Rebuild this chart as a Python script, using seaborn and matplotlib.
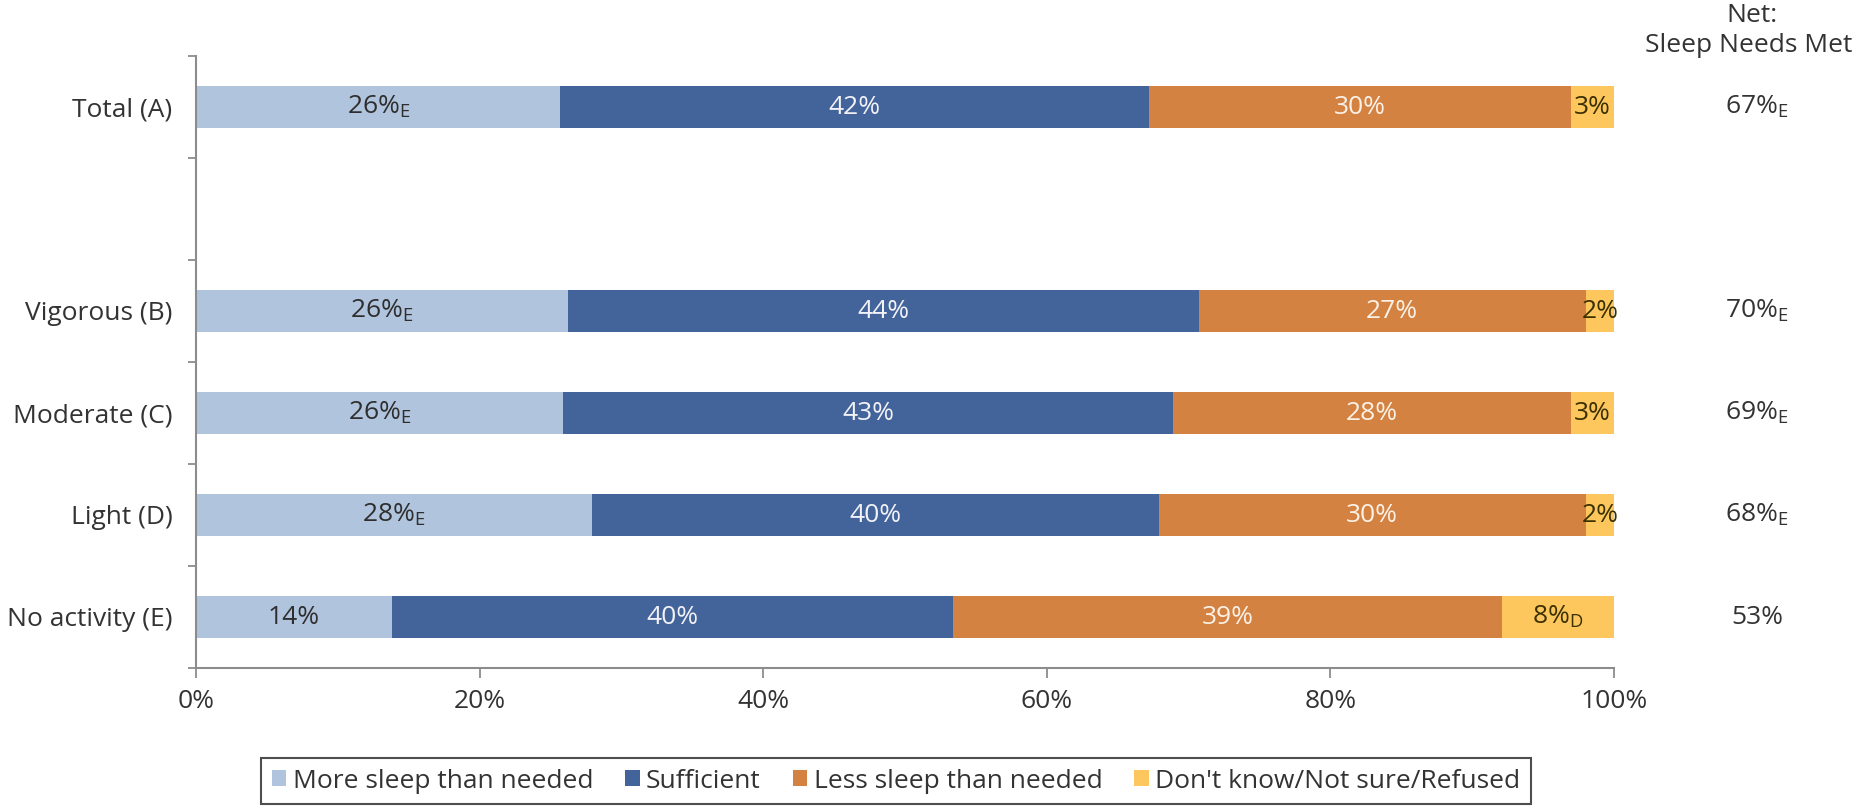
import numpy as np
import pandas as pd
import matplotlib
matplotlib.use("Agg")
import matplotlib.pyplot as plt
import seaborn as sns
from matplotlib.patches import Patch
from matplotlib.transforms import blended_transform_factory

# ---------------- data ----------------
groups = ["Total (A)", "Vigorous (B)", "Moderate (C)", "Light (D)", "No activity (E)"]
row_order = ["Total (A)", " ", "Vigorous (B)", "Moderate (C)", "Light (D)", "No activity (E)"]

series_names = ["More sleep than needed", "Sufficient", "Less sleep than needed",
                "Don't know/Not sure/Refused"]

# bar lengths (%)
more_sleep = [25.7, 26.2, 25.9, 27.9, 13.8]
sufficient = [41.5, 44.5, 43.0, 40.0, 39.6]
less_sleep = [29.8, 27.3, 28.1, 30.1, 38.7]
dont_know = [3.0, 2.0, 3.0, 2.0, 7.9]

# printed labels
more_lbl = [26, 26, 26, 28, 14]
more_sub = ["E", "E", "E", "E", ""]
suff_lbl = [42, 44, 43, 40, 40]
less_lbl = [30, 27, 28, 30, 39]
dk_lbl = [3, 2, 3, 2, 8]
dk_sub = ["", "", "", "", "D"]
net_lbl = [67, 70, 69, 68, 53]
net_sub = ["E", "E", "E", "E", ""]

x_ticks = [0, 20, 40, 60, 80, 100]

colors = ["#B1C4DD", "#43649A", "#D38242", "#FDC75E"]
text_colors = ["#2E2E2E", "#F2F2F7", "#FBF1E6", "#3A3000"]

# ---------------- style ----------------
sns.set_theme(style="white")
plt.rcParams["font.family"] = ["Open Sans", "DejaVu Sans"]
FS = 19

fig = plt.figure(figsize=(18.6, 8.07), dpi=100)
ax = fig.add_axes([196 / 1860, 1 - 668 / 807, (1614 - 196) / 1860, (668 - 56) / 807])

df = pd.DataFrame({"group": groups,
                   "s1": more_sleep, "s2": sufficient, "s3": less_sleep, "s4": dont_know})
seg = df[["s1", "s2", "s3", "s4"]].to_numpy()
cum = np.cumsum(seg, axis=1)
for k in range(4):
    df[f"c{k}"] = cum[:, k]

# stacked bars: draw cumulative totals from the largest down
for k in [3, 2, 1, 0]:
    sns.barplot(data=df, x=f"c{k}", y="group", order=row_order, orient="h",
                color=colors[k], saturation=1, width=0.42, ax=ax,
                edgecolor="none", linewidth=0)

def lab(v, sub):
    return f"{v}%" + (f"$_\\mathregular{{{sub}}}$" if sub else "")

label_sets = [
    (more_lbl, more_sub),
    (suff_lbl, [""] * 5),
    (less_lbl, [""] * 5),
    (dk_lbl, dk_sub),
]
for i, g in enumerate(groups):
    y = row_order.index(g)
    for k in range(4):
        start = cum[i, k] - seg[i, k]
        mid = start + seg[i, k] / 2
        vals, subs = label_sets[k]
        ax.text(mid, y, lab(vals[i], subs[i]), ha="center", va="center",
                fontsize=FS, color=text_colors[k])

# Net column
tr = blended_transform_factory(ax.transAxes, ax.transData)
xnet = (1757 - 196) / (1614 - 196)
for i, g in enumerate(groups):
    y = row_order.index(g)
    ax.text(xnet, y, lab(net_lbl[i], net_sub[i]), transform=tr, ha="center",
            va="center", fontsize=FS, color="#333333")
fig.text(1752 / 1860, 1 - 16 / 807, "Net:", ha="center", va="center", fontsize=FS, color="#333333")
fig.text(1852 / 1860, 1 - 46 / 807, "Sleep Needs Met", ha="right", va="center", fontsize=FS,
         color="#333333")

# axes
ax.set_xlim(0, 100)
ax.set_ylim(len(row_order) - 0.5, -0.5)
ax.set_xticks(x_ticks)
ax.set_xticklabels([f"{t}%" for t in x_ticks], fontsize=FS, color="#333333")
ax.set_xlabel("")
ax.set_ylabel("")
ax.tick_params(axis="y", which="major", length=0, pad=17, labelsize=FS, labelcolor="#333333")
ax.set_yticks(np.arange(-0.5, len(row_order), 1.0), minor=True)
ax.tick_params(axis="y", which="minor", length=6, width=1.3, color="#8C8C8C", left=True)
ax.tick_params(axis="x", which="major", length=7, width=1.3, color="#8C8C8C", pad=8, bottom=True)
for s in ["top", "right"]:
    ax.spines[s].set_visible(False)
for s in ["left", "bottom"]:
    ax.spines[s].set_color("#8C8C8C")
    ax.spines[s].set_linewidth(1.5)
ax.grid(False)

# legend
handles = [Patch(facecolor=c, edgecolor="none") for c in colors]
leg = fig.legend(handles, series_names, loc="center", bbox_to_anchor=(896 / 1860, 1 - 781 / 807),
                 ncol=4, fontsize=FS, frameon=True, fancybox=False, handlelength=0.55,
                 handleheight=0.55, handletextpad=0.25, columnspacing=1.2, borderpad=0.4,
                 labelcolor="#333333")
leg.get_frame().set_edgecolor("#222222")
leg.get_frame().set_linewidth(1.5)

fig.savefig("out.png", dpi=100)
